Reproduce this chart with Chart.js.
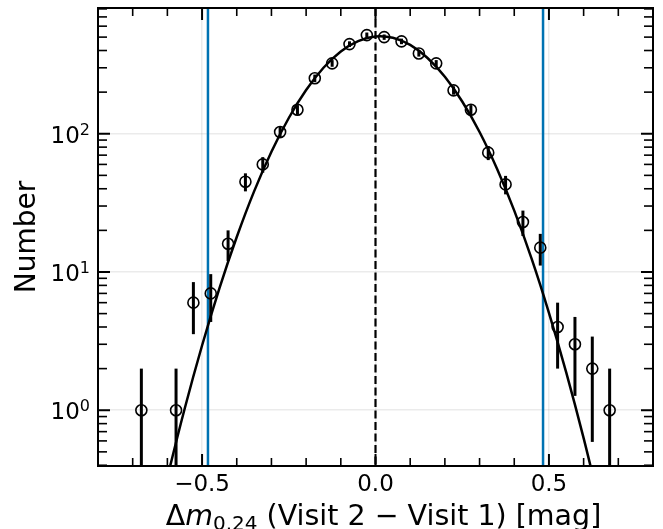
<!DOCTYPE html>
<html><head><meta charset="utf-8">
<script src="https://cdn.jsdelivr.net/npm/chart.js@4/dist/chart.umd.min.js"></script>
<style>html,body{margin:0;padding:0;background:#fff;}canvas{display:block;}</style>
</head><body>
<canvas id="c" width="663" height="529"></canvas>
<script>
// ---- data ----
const binCenters = [-0.675,-0.575,-0.525,-0.475,-0.425,-0.375,-0.325,-0.275,-0.225,-0.175,-0.125,-0.075,-0.025,0.025,0.075,0.125,0.175,0.225,0.275,0.325,0.375,0.425,0.475,0.525,0.575,0.625,0.675];
const counts = [1,1,6,7,16,45,60,103,149,252,323,445,517,500,466,381,323,206,149,73,43,23,15,4,3,2,1];
const countErrors = [1,1,2.45,2.65,4,6.71,7.75,10.15,12.21,15.87,17.97,21.1,22.74,22.36,21.59,19.52,17.97,14.35,12.21,8.54,6.56,4.8,3.87,2,1.73,1.41,1];
const fitX = [-0.65,-0.6,-0.55,-0.5,-0.45,-0.4,-0.35,-0.3,-0.25,-0.2,-0.15,-0.1,-0.05,0,0.05,0.1,0.15,0.2,0.25,0.3,0.35,0.4,0.45,0.5,0.55,0.6,0.65];
const fitY = [0.094,0.326,1.03,2.94,7.62,17.9,38.3,74.1,130,207,300,394,468,505,494,439,353,258,171,103,56.1,27.8,12.5,5.07,1.87,0.628,0.191];
const sigmaLines = [-0.483, 0.483];
const zeroLine = [0];
const xTicks = [-0.5, 0, 0.5];
const xTickLabels = ['\u22120.5', '0.0', '0.5'];
const xMinorTicks = [-0.7,-0.6,-0.4,-0.3,-0.2,-0.1,0.1,0.2,0.3,0.4,0.6,0.7];
const yTicks = [1, 10, 100];
const yTickExponents = ['0', '1', '2'];
const yMinorTicks = [0.4,0.5,0.6,0.7,0.8,0.9,2,3,4,5,6,7,8,9,20,30,40,50,60,70,80,90,200,300,400,500,600,700,800];
const xTitleParts = ['\u0394', 'm', '0.24', ' (Visit 2 \u2212 Visit 1) [mag]'];
const yTitle = 'Number';

const FONT = "'DejaVu Sans'";

const decor = {
  id: 'decor',
  beforeDatasetsDraw(chart) {
    const {ctx, chartArea: a, scales: {x, y}} = chart;
    ctx.save();
    ctx.beginPath(); ctx.rect(a.left, a.top, a.right - a.left, a.bottom - a.top); ctx.clip();
    ctx.strokeStyle = '#0072B2'; ctx.lineWidth = 2.5;
    sigmaLines.forEach(v => { const px = x.getPixelForValue(v); ctx.beginPath(); ctx.moveTo(px, a.top); ctx.lineTo(px, a.bottom); ctx.stroke(); });
    ctx.strokeStyle = '#000'; ctx.lineWidth = 2.2; ctx.setLineDash([8, 3.5]);
    zeroLine.forEach(v => { const px = x.getPixelForValue(v); ctx.beginPath(); ctx.moveTo(px, a.top); ctx.lineTo(px, a.bottom); ctx.stroke(); });
    ctx.setLineDash([]);
    ctx.lineWidth = 3;
    binCenters.forEach((c, i) => {
      const px = x.getPixelForValue(c);
      const lo = counts[i] - countErrors[i];
      const y0 = lo > 0 ? y.getPixelForValue(lo) : a.bottom + 5;
      const y1 = y.getPixelForValue(counts[i] + countErrors[i]);
      ctx.beginPath(); ctx.moveTo(px, y0); ctx.lineTo(px, y1); ctx.stroke();
    });
    ctx.restore();
  },
  afterDraw(chart) {
    const {ctx, chartArea: a, scales: {x, y}} = chart;
    ctx.save();
    ctx.strokeStyle = '#000';
    const tick = (x0, y0, x1, y1, w) => { ctx.lineWidth = w; ctx.beginPath(); ctx.moveTo(x0, y0); ctx.lineTo(x1, y1); ctx.stroke(); };
    xTicks.forEach(v => { const px = x.getPixelForValue(v); tick(px, a.bottom, px, a.bottom - 12, 2); tick(px, a.top, px, a.top + 12, 2); });
    xMinorTicks.forEach(v => { const px = x.getPixelForValue(v); tick(px, a.bottom, px, a.bottom - 8, 1.6); tick(px, a.top, px, a.top + 8, 1.6); });
    yTicks.forEach(v => { const py = y.getPixelForValue(v); tick(a.left, py, a.left + 12, py, 2); tick(a.right, py, a.right - 12, py, 2); });
    yMinorTicks.forEach(v => { const py = y.getPixelForValue(v); tick(a.left, py, a.left + 9, py, 1.6); tick(a.right, py, a.right - 9, py, 1.6); });
    ctx.lineWidth = 2;
    ctx.strokeRect(a.left, a.top, a.right - a.left, a.bottom - a.top);
    ctx.fillStyle = '#000';
    ctx.font = '23px ' + FONT; ctx.textAlign = 'center'; ctx.textBaseline = 'alphabetic';
    xTicks.forEach((v, i) => { ctx.fillText(xTickLabels[i], x.getPixelForValue(v), a.bottom + 25); });
    yTicks.forEach((v, i) => {
      const py = y.getPixelForValue(v);
      ctx.font = '23px ' + FONT; const w1 = ctx.measureText('10').width;
      ctx.font = '16px ' + FONT; const w2 = ctx.measureText(yTickExponents[i]).width;
      const x0 = a.left - 8 - w1 - w2;
      ctx.textAlign = 'left';
      ctx.font = '23px ' + FONT; ctx.fillText('10', x0, py + 9);
      ctx.font = '16px ' + FONT; ctx.fillText(yTickExponents[i], x0 + w1, py + 1);
    });
    ctx.save();
    ctx.translate(35, (a.top + a.bottom) / 2);
    ctx.rotate(-Math.PI / 2);
    ctx.font = '28px ' + FONT; ctx.textAlign = 'center'; ctx.textBaseline = 'alphabetic';
    ctx.fillText(yTitle, 0, 0);
    ctx.restore();
    const base = 525;
    ctx.textAlign = 'left';
    const fMain = '28.5px ' + FONT, fIt = 'italic 28.5px ' + FONT, fSub = '20px ' + FONT;
    const widths = [];
    ctx.font = fMain; widths.push(ctx.measureText(xTitleParts[0]).width);
    ctx.font = fIt; widths.push(ctx.measureText(xTitleParts[1]).width);
    ctx.font = fSub; widths.push(ctx.measureText(xTitleParts[2]).width);
    ctx.font = fMain; widths.push(ctx.measureText(xTitleParts[3]).width);
    const total = widths.reduce((s, w) => s + w, 0);
    let cx = (a.left + a.right) / 2 - total / 2 + 8;
    ctx.font = fMain; ctx.fillText(xTitleParts[0], cx, base); cx += widths[0];
    ctx.font = fIt; ctx.fillText(xTitleParts[1], cx, base); cx += widths[1];
    ctx.font = fSub; ctx.fillText(xTitleParts[2], cx, base + 5); cx += widths[2];
    ctx.font = fMain; ctx.fillText(xTitleParts[3], cx, base);
    ctx.restore();
  }
};

new Chart(document.getElementById('c'), {
  data: {
    datasets: [
      {
        type: 'line',
        data: fitX.map((v, i) => ({x: v, y: fitY[i]})),
        borderColor: '#000', borderWidth: 2.5, pointRadius: 0, tension: 0.4, fill: false, order: 2
      },
      {
        type: 'scatter',
        data: binCenters.map((v, i) => ({x: v, y: counts[i]})),
        borderColor: '#000', backgroundColor: 'rgba(0,0,0,0)', pointRadius: 5.5, borderWidth: 1.6, order: 1
      }
    ]
  },
  options: {
    responsive: false,
    devicePixelRatio: 1,
    animation: false,
    events: [],
    layout: {padding: {top: 8, right: 10, left: 0, bottom: 0}},
    plugins: {legend: {display: false}, tooltip: {enabled: false}},
    scales: {
      x: {
        type: 'linear', min: -0.8, max: 0.8,
        afterBuildTicks: s => { s.ticks = xTicks.map(v => ({value: v})); },
        afterFit: s => { s.height = 63; },
        ticks: {display: false},
        grid: {color: 'rgba(0,0,0,0.08)', lineWidth: 1.5, drawTicks: false},
        border: {display: false}
      },
      y: {
        type: 'logarithmic', min: 0.395, max: 812,
        afterBuildTicks: s => { s.ticks = yTicks.map(v => ({value: v})); },
        afterFit: s => { s.width = 98; },
        ticks: {display: false},
        grid: {color: 'rgba(0,0,0,0.08)', lineWidth: 1.5, drawTicks: false},
        border: {display: false}
      }
    }
  },
  plugins: [decor]
});
</script>
</body></html>
